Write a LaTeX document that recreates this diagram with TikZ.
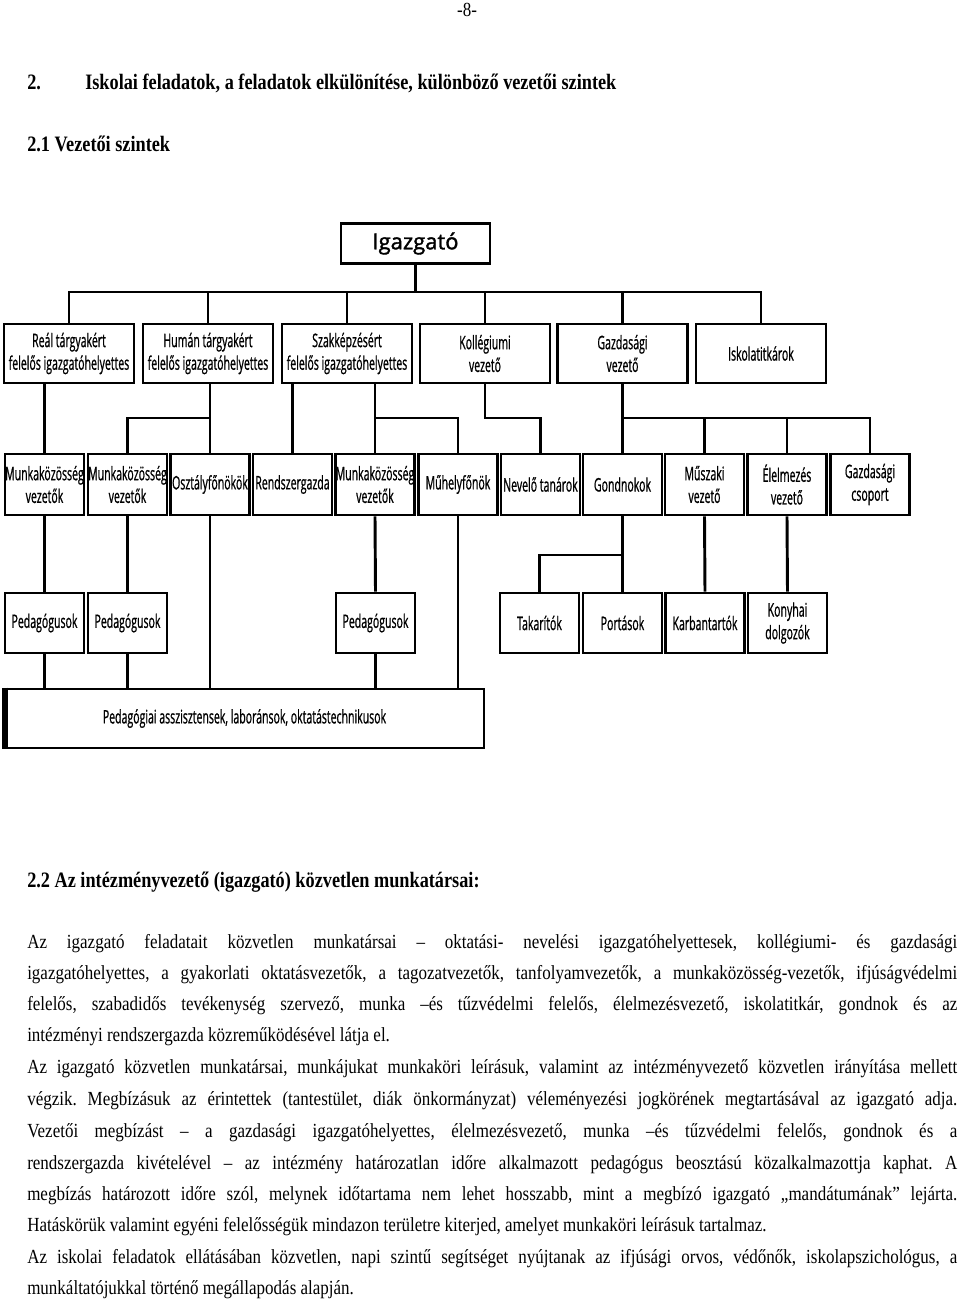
\documentclass[tikz,border=0pt]{standalone}
\usepackage{fontspec}
\setmainfont[FakeStretch=0.85]{Liberation Serif}
\newfontfamily\hdf[FakeStretch=0.83]{Liberation Serif}
\newfontfamily\chf[FakeStretch=0.565,FakeBold=0.8]{Open Sans}
\newfontfamily\igf[FakeBold=1.6]{Open Sans}
\newdimen\pxu \pxu=0.75pt
\newcommand\jline[1]{\makebox[930\pxu][s]{#1}}
\frenchspacing
\begin{document}
\begin{tikzpicture}[x=0.75pt,y=-0.75pt,
  box/.style={draw, line width=2.2pt, align=center, inner sep=0pt,
    font=\chf\fontsize{14}{17}\selectfont},
  wA/.style={box, minimum width=97.5pt, minimum height=44.25pt},
  wB/.style={box, minimum width=59.25pt, minimum height=45.75pt},
  wC/.style={box, minimum width=59.25pt, minimum height=45pt},
  ln/.style={line width=2.2pt},
  para/.style={anchor=base west, inner sep=0pt, font=\fontsize{15}{17}\selectfont},
  head/.style={anchor=base west, inner sep=0pt, font=\hdf\bfseries\fontsize{16.5}{19}\selectfont}]
\useasboundingbox (0,0) rectangle (960,1300);
\fill[white] (0,0) rectangle (960,1300);

% page texts
\node[anchor=base, inner sep=0pt, font=\fontsize{15}{17}\selectfont] (pg) at (467,16) {-8-};
\node[head] (h2n) at (27,89) {2.};
\node[head] (h2) at (85,89) {Iskolai feladatok, a feladatok elkülönítése, különböző vezetői szintek};
\node[head] (h21) at (27,151) {2.1 Vezetői szintek};
\node[head] (h22) at (27,887) {2.2 Az intézményvezető (igazgató) közvetlen munkatársai:};

% chart
\node[box, minimum width=111.75pt, minimum height=30pt, font=\igf\fontsize{16.5}{19}\selectfont] (Ig) at (415.5,243.5) {Igazgató};

\node[wA] (Real) at (69,353.5) {Reál tárgyakért\\felelős igazgatóhelyettes};
\node[wA] (Human) at (208,353.5) {Humán tárgyakért\\felelős igazgatóhelyettes};
\node[wA] (Szakk) at (347,353.5) {Szakképzésért\\felelős igazgatóhelyettes};
\node[wA] (Koll) at (485,353.5) {Kollégiumi\\vezető};
\node[wA] (Gazd) at (622.5,353.5) {Gazdasági\\vezető};
\node[wA] (Titk) at (761,353.5) {Iskolatitkárok};

\node[wB] (MKa) at (44.5,484.5) {Munkaközösség\\vezetők};
\node[wB] (MKb) at (127.5,484.5) {Munkaközösség\\vezetők};
\node[wB] (Oszt) at (210,484.5) {Osztályfőnökök};
\node[wB] (Rend) at (292.5,484.5) {Rendszergazda};
\node[wB] (MKc) at (375,484.5) {Munkaközösség\\vezetők};
\node[wB] (Muh) at (458,484.5) {Műhelyfőnök};
\node[wB] (Nev) at (540.5,484.5) {Nevelő tanárok};
\node[wB] (Gond) at (622.5,484.5) {Gondnokok};
\node[wB] (Musz) at (704.5,484.5) {Műszaki\\vezető};
\node[wB] (Elel) at (787,484.5) {Élelmezés\\vezető};
\node[wB] (Gcs) at (870,484.5) {Gazdasági\\csoport};

\node[wC] (Pa) at (44.5,623) {Pedagógusok};
\node[wC] (Pb) at (127.5,623) {Pedagógusok};
\node[wC] (Pc) at (375.5,623) {Pedagógusok};
\node[wC] (Tak) at (539.5,623) {Takarítók};
\node[wC] (Port) at (622.5,623) {Portások};
\node[wC] (Karb) at (705,623) {Karbantartók};
\node[wC] (Kony) at (787.5,623) {Konyhai\\dolgozók};

\node[box, minimum width=359.25pt, minimum height=44.25pt] (Bot) at (244.5,718.5) {Pedagógiai asszisztensek, laboránsok, oktatástechnikusok};
\draw[line width=4.5pt] ([xshift=1pt]Bot.north west) -- ([xshift=1pt]Bot.south west);

% connector levels
\coordinate (lv1) at (0,292);
\coordinate (lv2) at (0,418);
\coordinate (lv3) at (0,555);

\draw[ln] (Ig.south) -- (Ig.south |- lv1);
\draw[ln] (Real.north) -- (Real.north |- lv1) -- (Titk.north |- lv1) -- (Titk.north);
\foreach \n in {Human,Szakk,Koll,Gazd} \draw[ln] (\n.north) -- (\n.north |- lv1);

\draw[ln] (MKa.north) -- (MKa.north |- Real.south);
\draw[ln] (Oszt.north) -- (Oszt.north |- Human.south);
\draw[ln] (Oszt.north |- lv2) -| (MKb.north);
\draw[ln] (Rend.north) -- (Rend.north |- Szakk.south);
\draw[ln] (MKc.north) -- (MKc.north |- Szakk.south);
\draw[ln] (MKc.north |- lv2) -| (Muh.north);
\draw[ln] (Koll.south) -- (Koll.south |- lv2) -| (Nev.north);
\draw[ln] (Gond.north) -- (Gond.north |- Gazd.south);
\draw[ln] (Gond.north |- lv2) -- (Gcs.north |- lv2) -- (Gcs.north);
\draw[ln] (Musz.north) -- (Musz.north |- lv2);
\draw[ln] (Elel.north) -- (Elel.north |- lv2);

\draw[ln] (MKa.south) -- (Pa.north);
\draw[ln] (MKb.south) -- (Pb.north);
\draw[ln] (Oszt.south) -- (Oszt.south |- Bot.north);
\draw[ln] (MKc.south) -- (Pc.north);
\draw[ln] (Muh.south) -- (Muh.south |- Bot.north);
\draw[ln] (Gond.south) -- (Port.north);
\draw[ln] (Gond.south |- lv3) -| (Tak.north);
\draw[ln] (Musz.south) -- (Karb.north);
\draw[ln] (Elel.south) -- (Kony.north);
\draw[ln] (Pa.south) -- (Pa.south |- Bot.north);
\draw[ln] (Pb.south) -- (Pb.south |- Bot.north);
\draw[ln] (Pc.south) -- (Pc.south |- Bot.north);

% paragraph
\node[para] (l1) at (27,948) {\jline{Az igazgató feladatait közvetlen munkatársai – oktatási- nevelési igazgatóhelyettesek, kollégiumi- és gazdasági}};
\node[para] (l2) at (27,979) {\jline{igazgatóhelyettes, a gyakorlati oktatásvezetők, a tagozatvezetők, tanfolyamvezetők, a munkaközösség-vezetők, ifjúságvédelmi}};
\node[para] (l3) at (27,1010) {\jline{felelős, szabadidős tevékenység szervező, munka –és tűzvédelmi felelős, élelmezésvezető, iskolatitkár, gondnok és az}};
\node[para] (l4) at (27,1041) {intézményi rendszergazda közreműködésével látja el.};
\node[para] (l5) at (27,1073) {\jline{Az igazgató közvetlen munkatársai, munkájukat munkaköri leírásuk, valamint az intézményvezető közvetlen irányítása mellett}};
\node[para] (l6) at (27,1105) {\jline{végzik. Megbízásuk az érintettek (tantestület, diák önkormányzat) véleményezési jogkörének megtartásával az igazgató adja.}};
\node[para] (l7) at (27,1137) {\jline{Vezetői megbízást – a gazdasági igazgatóhelyettes, élelmezésvezető, munka –és tűzvédelmi felelős, gondnok és a}};
\node[para] (l8) at (27,1169) {\jline{rendszergazda kivételével – az intézmény határozatlan időre alkalmazott pedagógus beosztású közalkalmazottja kaphat. A}};
\node[para] (l9) at (27,1200) {\jline{megbízás határozott időre szól, melynek időtartama nem lehet hosszabb, mint a megbízó igazgató „mandátumának” lejárta.}};
\node[para] (l10) at (27,1231) {Hatáskörük valamint egyéni felelősségük mindazon területre kiterjed, amelyet munkaköri leírásuk tartalmaz.};
\node[para] (l11) at (27,1263) {\jline{Az iskolai feladatok ellátásában közvetlen, napi szintű segítséget nyújtanak az ifjúsági orvos, védőnők, iskolapszichológus, a}};
\node[para] (l12) at (27,1294) {munkáltatójukkal történő megállapodás alapján.};
\end{tikzpicture}
\end{document}
